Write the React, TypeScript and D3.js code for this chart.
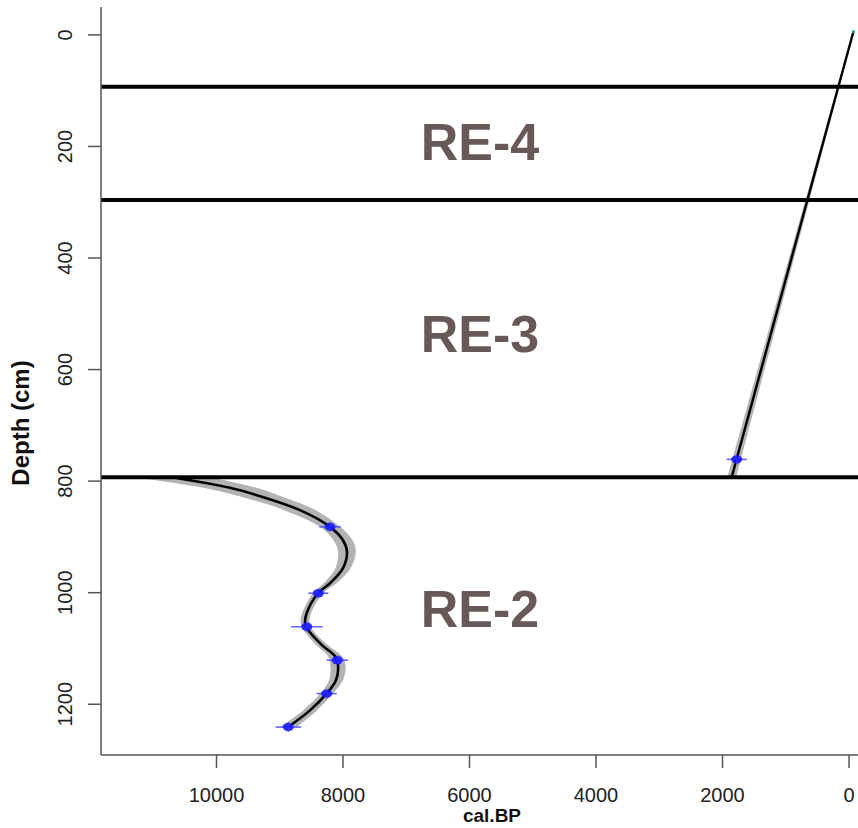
import React from "react";
import * as d3 from "d3";

// ---- data ----
const xTicks = [10000, 8000, 6000, 4000, 2000, 0];
const yTicks = [0, 200, 400, 600, 800, 1000, 1200];
const zoneBoundaries = [93, 296, 793];
const zoneLabels = ["RE-4", "RE-3", "RE-2"];
const zoneLabelDepths = [190, 535, 1028];

// upper age-depth segment (depth cm, cal BP, half-width of envelope)
const upperDepth = [-6, 795];
const upperAge = [-70, 1860];
const upperSpread = [10, 70];

// lower age-depth segment
const lowerDepth = [793, 812, 827, 852, 882, 906, 927, 956, 983, 1001, 1035, 1053, 1064, 1094, 1114, 1130, 1157, 1180, 1211, 1241];
const lowerAge = [10700, 9787, 9312, 8680, 8205, 8000, 7937, 8000, 8205, 8395, 8569, 8600, 8569, 8332, 8126, 8079, 8111, 8253, 8522, 8870];
const lowerSpread = [600, 420, 330, 250, 160, 150, 140, 120, 100, 80, 70, 70, 70, 90, 110, 120, 110, 100, 110, 130];

// dated samples
const dateDepth = [761, 882, 1001, 1061, 1121, 1181, 1241];
const dateAge = [1775, 8205, 8390, 8573, 8090, 8258, 8865];
const dateErr = [160, 170, 160, 250, 170, 160, 200];

export default function App() {
  const W = 858, H = 828;
  const x = d3.scaleLinear().domain([11826, -142]).range([101, 858]);
  const y = d3.scaleLinear().domain([-50, 1291]).range([7, 755]);

  const upper = upperDepth.map((d, i) => ({ depth: d, age: upperAge[i], w: upperSpread[i] }));
  const lower = lowerDepth.map((d, i) => ({ depth: d, age: lowerAge[i], w: lowerSpread[i] }));
  const dates = dateDepth.map((d, i) => ({ depth: d, age: dateAge[i], err: dateErr[i] }));

  const line = d3.line<any>().x(d => x(d.age)).y(d => y(d.depth)).curve(d3.curveCatmullRom);
  const band = d3.area<any>().y(d => y(d.depth)).x0(d => x(d.age + d.w)).x1(d => x(d.age - d.w)).curve(d3.curveCatmullRom);

  const x0 = 101, yBottom = 755;

  return (
    <svg width={W} height={H} style={{ position: "absolute", left: 0, top: 0, background: "#fff" }}
      fontFamily="'Liberation Sans', Arial, sans-serif">
      <rect width={W} height={H} fill="#fff" />
      {/* envelopes */}
      <path d={band(upper) || ""} fill="#9a9a9a" opacity={0.75} />
      <path d={band(lower) || ""} fill="#9a9a9a" opacity={0.75} />
      {/* mean lines */}
      <path d={line(upper) || ""} fill="none" stroke="#000" strokeWidth={2.4} />
      <path d={line(lower) || ""} fill="none" stroke="#000" strokeWidth={2.6} />
      <circle cx={x(upperAge[0])} cy={y(upperDepth[0])} r={1.6} fill="#2aa8a8" />

      {/* dates */}
      {dates.map((d, i) => (
        <g key={i}>
          <line x1={x(d.age + d.err)} x2={x(d.age - d.err)} y1={y(d.depth)} y2={y(d.depth)} stroke="#4a4aff" strokeWidth={1.6} opacity={0.85} />
          <ellipse cx={x(d.age)} cy={y(d.depth)} rx={5.5} ry={4.2} fill="#1a1aff" opacity={0.9} />
          <line x1={x(d.age)} x2={x(d.age)} y1={y(d.depth) - 5} y2={y(d.depth) + 5} stroke="#3030ff" strokeWidth={1.2} opacity={0.7} />
        </g>
      ))}

      {/* zone boundaries */}
      {zoneBoundaries.map((b, i) => (
        <line key={i} x1={x0} x2={W} y1={y(b)} y2={y(b)} stroke="#000" strokeWidth={4} />
      ))}
      {zoneLabels.map((t, i) => (
        <text key={t} x={480} y={y(zoneLabelDepths[i]) + 19} textAnchor="middle" fontSize={52} fontWeight="bold" fill="#685858">{t}</text>
      ))}

      {/* axes */}
      <line x1={x0} x2={x0} y1={7} y2={yBottom} stroke="#555" strokeWidth={1.5} />
      <line x1={x0} x2={W} y1={yBottom} y2={yBottom} stroke="#555" strokeWidth={1.5} />
      {yTicks.map(t => (
        <g key={t}>
          <line x1={88} x2={x0} y1={y(t)} y2={y(t)} stroke="#555" strokeWidth={1.5} />
          <text transform={`translate(71.5,${y(t)}) rotate(-90)`} textAnchor="middle" fontSize={20} fill="#222">{t}</text>
        </g>
      ))}
      {xTicks.map(t => (
        <g key={t}>
          <line x1={x(t)} x2={x(t)} y1={yBottom} y2={768} stroke="#555" strokeWidth={1.5} />
          <text x={x(t)} y={801.5} textAnchor="middle" fontSize={20} fill="#222">{t}</text>
        </g>
      ))}
      <text x={492} y={822} textAnchor="middle" fontSize={19} fontWeight="bold" fill="#111">cal.BP</text>
      <text transform="translate(29,423) rotate(-90)" textAnchor="middle" fontSize={24} fontWeight="bold" fill="#111">Depth (cm)</text>
    </svg>
  );
}
